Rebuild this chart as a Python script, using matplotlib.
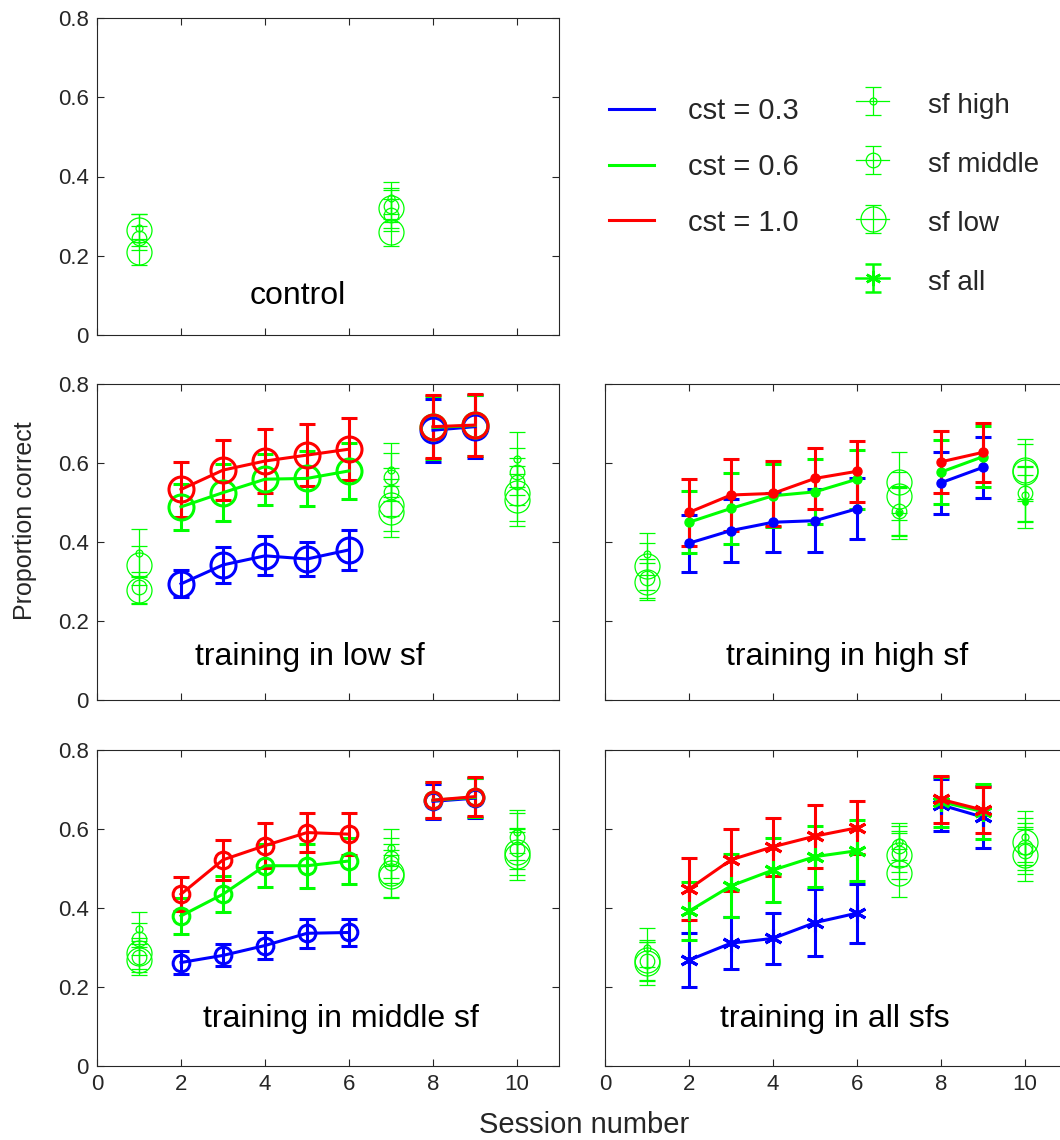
import numpy as np
import matplotlib
matplotlib.use('Agg')
import matplotlib.pyplot as plt
from matplotlib.lines import Line2D

plt.rcParams['font.family'] = ['Liberation Sans', 'DejaVu Sans']

# ---- data (proportion correct) ----
train_sessions = [2, 3, 4, 5, 6]
test_sessions = [8, 9]
contrast_labels = ['cst = 0.3', 'cst = 0.6', 'cst = 1.0']
contrast_colors = ['#0000ff', '#00ff00', '#ff0000']
sf_labels = ['sf high', 'sf middle', 'sf low', 'sf all']

# rows: cst 0.3, 0.6, 1.0
low_train = [[0.294, 0.342, 0.365, 0.357, 0.380],
             [0.489, 0.525, 0.559, 0.561, 0.580],
             [0.533, 0.582, 0.605, 0.620, 0.635]]
low_train_err = [[0.034, 0.046, 0.049, 0.043, 0.050],
                 [0.058, 0.072, 0.065, 0.070, 0.070],
                 [0.070, 0.075, 0.080, 0.078, 0.079]]
low_post = [[0.683, 0.692], [0.690, 0.695], [0.692, 0.696]]
low_post_err = [[0.080, 0.079], [0.080, 0.078], [0.080, 0.079]]

high_train = [[0.397, 0.429, 0.450, 0.454, 0.484],
              [0.450, 0.485, 0.517, 0.527, 0.559],
              [0.475, 0.519, 0.523, 0.561, 0.579]]
high_train_err = [[0.072, 0.080, 0.075, 0.080, 0.077],
                  [0.078, 0.090, 0.080, 0.082, 0.075],
                  [0.084, 0.092, 0.083, 0.078, 0.077]]
high_post = [[0.550, 0.589], [0.577, 0.616], [0.603, 0.627]]
high_post_err = [[0.079, 0.078], [0.080, 0.078], [0.079, 0.074]]

middle_train = [[0.262, 0.280, 0.305, 0.336, 0.338],
                [0.380, 0.435, 0.507, 0.507, 0.519],
                [0.435, 0.522, 0.558, 0.591, 0.587]]
middle_train_err = [[0.030, 0.028, 0.035, 0.036, 0.034],
                    [0.045, 0.045, 0.055, 0.056, 0.057],
                    [0.043, 0.051, 0.057, 0.049, 0.054]]
middle_post = [[0.670, 0.678], [0.673, 0.680], [0.673, 0.682]]
middle_post_err = [[0.045, 0.050], [0.045, 0.050], [0.045, 0.050]]

all_train = [[0.268, 0.311, 0.323, 0.363, 0.387],
             [0.392, 0.456, 0.496, 0.530, 0.545],
             [0.448, 0.522, 0.555, 0.582, 0.603]]
all_train_err = [[0.069, 0.065, 0.064, 0.084, 0.075],
                 [0.073, 0.080, 0.081, 0.078, 0.077],
                 [0.079, 0.078, 0.073, 0.080, 0.067]]
all_post = [[0.661, 0.630], [0.669, 0.644], [0.675, 0.648]]
all_post_err = [[0.066, 0.078], [0.063, 0.070], [0.060, 0.058]]

# pre/post tests at cst 0.6: (session, sf marker, mean, err)
control_tests = [(1, 'h', 0.270, 0.035), (1, 'm', 0.245, 0.030), (1, 'l', 0.265, 0.040),
                 (1, 'l', 0.210, 0.033),
                 (7, 'h', 0.345, 0.040), (7, 'm', 0.303, 0.040), (7, 'm', 0.325, 0.040),
                 (7, 'l', 0.320, 0.050), (7, 'l', 0.259, 0.034)]
low_tests = [(1, 'h', 0.372, 0.060), (1, 'l', 0.341, 0.050), (1, 'm', 0.285, 0.040),
             (1, 'l', 0.278, 0.035),
             (7, 'h', 0.582, 0.068), (7, 'm', 0.565, 0.060), (7, 'm', 0.527, 0.060),
             (7, 'l', 0.494, 0.065), (7, 'l', 0.477, 0.065),
             (10, 'h', 0.609, 0.070), (10, 'm', 0.578, 0.060), (10, 'm', 0.553, 0.060),
             (10, 'l', 0.523, 0.070), (10, 'l', 0.506, 0.066)]
high_tests = [(1, 'h', 0.369, 0.053), (1, 'l', 0.338, 0.060), (1, 'm', 0.308, 0.050),
              (1, 'l', 0.300, 0.047),
              (7, 'l', 0.551, 0.078), (7, 'l', 0.516, 0.060), (7, 'm', 0.478, 0.060),
              (7, 'h', 0.476, 0.060), (7, 'd', 0.474, 0.067),
              (10, 'l', 0.582, 0.078), (10, 'l', 0.578, 0.070), (10, 'm', 0.523, 0.070),
              (10, 'h', 0.520, 0.070), (10, 'd', 0.502, 0.067)]
middle_tests = [(1, 'h', 0.346, 0.044), (1, 'm', 0.322, 0.040), (1, 'l', 0.285, 0.040),
                (1, 'm', 0.277, 0.040), (1, 'l', 0.269, 0.039),
                (7, 'h', 0.553, 0.047), (7, 'm', 0.526, 0.050), (7, 'm', 0.513, 0.050),
                (7, 'l', 0.488, 0.060), (7, 'l', 0.480, 0.054),
                (10, 'h', 0.593, 0.055), (10, 'm', 0.581, 0.060), (10, 'm', 0.550, 0.050),
                (10, 'l', 0.543, 0.060), (10, 'l', 0.532, 0.061)]
all_tests = [(1, 'h', 0.300, 0.049), (1, 'l', 0.268, 0.050), (1, 'm', 0.265, 0.050),
             (1, 'l', 0.260, 0.055),
             (7, 'h', 0.568, 0.046), (7, 'm', 0.557, 0.050), (7, 'm', 0.540, 0.050),
             (7, 'l', 0.534, 0.060), (7, 'l', 0.488, 0.061),
             (10, 'h', 0.581, 0.065), (10, 'l', 0.568, 0.060), (10, 'm', 0.555, 0.060),
             (10, 'm', 0.545, 0.060), (10, 'l', 0.534, 0.066)]

# ---- styles ----
thin_style = {
    'h': dict(marker='o', ms=5, mfc='none'),
    'm': dict(marker='o', ms=10.5, mfc='none'),
    'l': dict(marker='o', ms=18, mfc='none'),
    'd': dict(marker='o', ms=4),
    'a': dict(marker=(6, 2, 0), ms=11),
}
main_style = {
    'l': dict(marker='o', ms=18, mfc='none', mew=2.2),
    'm': dict(marker='o', ms=12, mfc='none', mew=2.2),
    'h': dict(marker='o', ms=6.5),
    'a': dict(marker=(6, 2, 0), ms=13, mew=2.2),
}
GREEN = '#00ff00'
AX_COLOR = '#262626'

W, H = 1060, 1140
fig = plt.figure(figsize=(W / 100, H / 100), dpi=100)


def box(l, t, r, b):
    return [l / W, 1 - b / H, (r - l) / W, (b - t) / H]


def setup(ax, xlabels=False, ylabels=True):
    ax.set_xlim(0, 11)
    ax.set_ylim(0, 0.8)
    ax.set_xticks([0, 2, 4, 6, 8, 10])
    ax.set_yticks([0, 0.2, 0.4, 0.6, 0.8])
    ax.set_yticklabels(['0', '0.2', '0.4', '0.6', '0.8'])
    ax.tick_params(direction='in', top=True, right=True, length=5, width=0.8,
                   labelsize=16, colors=AX_COLOR, labelcolor=AX_COLOR, pad=6)
    if not xlabels:
        ax.set_xticklabels([])
    if not ylabels:
        ax.set_yticklabels([])
    for sp in ax.spines.values():
        sp.set_color(AX_COLOR)
        sp.set_linewidth(0.8)


def draw_tests(ax, tests):
    for s, kind, m, e in tests:
        ax.errorbar([s], [m], yerr=[e], color=GREEN, lw=0.9, capsize=5.5,
                    capthick=0.9, mew=0.9, **thin_style[kind])


def draw_training(ax, train, train_err, post, post_err, kind):
    for i, c in enumerate(contrast_colors):
        ax.errorbar(train_sessions, train[i], yerr=train_err[i], color=c, lw=2.2,
                    capsize=6, capthick=2.2, **main_style[kind])
        ax.errorbar(test_sessions, post[i], yerr=post_err[i], color=c, lw=2.2,
                    capsize=6, capthick=2.2, **main_style[kind])


ax_ctrl = fig.add_axes(box(97, 18, 559, 335))
ax_low = fig.add_axes(box(97, 384, 559, 700))
ax_high = fig.add_axes(box(605, 384, 1067, 700))
ax_mid = fig.add_axes(box(97, 750, 559, 1066))
ax_all = fig.add_axes(box(605, 750, 1067, 1066))

setup(ax_ctrl)
setup(ax_low)
setup(ax_high, ylabels=False)
setup(ax_mid, xlabels=True)
setup(ax_all, xlabels=True, ylabels=False)

draw_tests(ax_ctrl, control_tests)
draw_tests(ax_low, low_tests)
draw_tests(ax_high, high_tests)
draw_tests(ax_mid, middle_tests)
draw_tests(ax_all, all_tests)

draw_training(ax_low, low_train, low_train_err, low_post, low_post_err, 'l')
draw_training(ax_high, high_train, high_train_err, high_post, high_post_err, 'h')
draw_training(ax_mid, middle_train, middle_train_err, middle_post, middle_post_err, 'm')
draw_training(ax_all, all_train, all_train_err, all_post, all_post_err, 'a')

title_kw = dict(fontsize=23, ha='center', va='center', color='black')
ax_ctrl.text(4.79, 0.098, 'control', **title_kw)
ax_low.text(5.07, 0.109, 'training in low sf', **title_kw)
ax_high.text(5.76, 0.109, 'training in high sf', **title_kw)
ax_mid.text(5.81, 0.12, 'training in middle sf', **title_kw)
ax_all.text(5.48, 0.12, 'training in all sfs', **title_kw)

fig.text(25 / W, 1 - 521 / H, 'Proportion correct', rotation=90, ha='center',
         va='center', fontsize=18, color=AX_COLOR)
fig.text(584 / W, 1 - 1125 / H, 'Session number', ha='center', va='center',
         fontsize=21, color=AX_COLOR)

# ---- legends ----
line_handles = [Line2D([], [], color=c, lw=2.2) for c in contrast_colors]
leg1 = fig.legend(line_handles, contrast_labels, loc='upper left',
                  bbox_to_anchor=(583 / W, 1 - 71 / H), frameon=False, fontsize=21,
                  handlelength=1.55, handletextpad=1.15, labelspacing=0.95,
                  labelcolor=AX_COLOR)

eb_handles = []
for kind in ['h', 'm', 'l', 'a']:
    st = dict(thin_style[kind])
    if kind == 'a':
        eb = ax_ctrl.errorbar([np.nan], [np.nan], yerr=[0.05], color=GREEN, lw=1.8,
                              capsize=6, capthick=1.8, mew=1.8, **st)
    else:
        eb = ax_ctrl.errorbar([np.nan], [np.nan], yerr=[0.05], color=GREEN, lw=0.9,
                              capsize=6, capthick=0.9, mew=0.9, **st)
    eb_handles.append(eb)
leg2 = fig.legend(eb_handles, sf_labels, loc='upper left',
                  bbox_to_anchor=(831 / W, 1 - 63 / H), frameon=False, fontsize=20,
                  handlelength=1.2, handleheight=1.4, handletextpad=1.38,
                  labelspacing=0.97, labelcolor=AX_COLOR)

fig.savefig('out.png', dpi=100)
plt.close(fig)
